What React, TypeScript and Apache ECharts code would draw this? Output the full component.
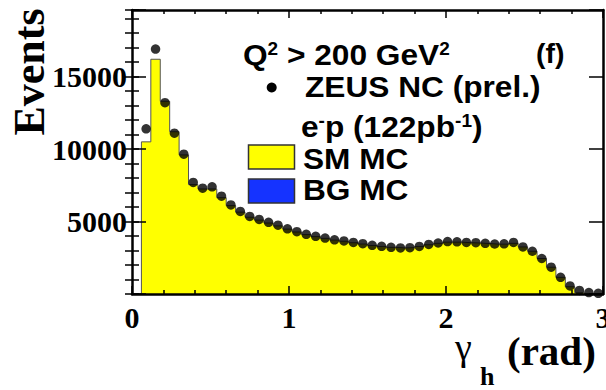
import React, { useEffect, useRef } from "react";
import * as echarts from "echarts";

// ---- data ----
const X_MIN = 0;
const X_MAX = 3;
const BIN_WIDTH = 0.06;
const Y_MAX = 19600;
const xTickLabels = [0, 1, 2, 3];
const yTickLabels = [5000, 10000, 15000];

// ZEUS NC (prel.) data, one value per bin (bin k spans [k*0.06, (k+1)*0.06])
const dataEvents: (number | null)[] = [
  null, 11400, 16900, 13200, 11100, 9650, 7700, 7300, 7400, 6750,
  6150, 5700, 5350, 5150, 4950, 4750, 4500, 4300, 4120, 3980,
  3860, 3740, 3660, 3560, 3470, 3360, 3290, 3220, 3180, 3200,
  3280, 3420, 3520, 3620, 3600, 3560, 3540, 3500, 3450, 3460,
  3560, 3250, 2950, 2450, 1850, 1150, 560, 250, 100, 50,
];

// SM MC histogram, one value per bin
const mcEvents: number[] = [
  0, 10500, 16200, 13300, 11200, 9600, 7550, 7250, 7250, 6650,
  6100, 5650, 5300, 5100, 4900, 4700, 4480, 4280, 4100, 3960,
  3840, 3720, 3640, 3540, 3450, 3350, 3280, 3220, 3180, 3200,
  3280, 3400, 3500, 3580, 3580, 3540, 3520, 3480, 3440, 3440,
  3500, 3250, 2950, 2450, 1850, 1150, 500, 80, 10, 0,
];

const SERIF = '"Liberation Serif", "Times New Roman", serif';
const SANS = '"Liberation Sans", Arial, Helvetica, sans-serif';

function frameLine() {
  return { show: true, onZero: false, lineStyle: { color: "#000", width: 2.5 } };
}
function tickStyle() {
  return { color: "#000", width: 1.5 };
}

function buildGraphics(): any[] {
  const legendRich = (fs: number) => ({
    m: { fontSize: fs, lineHeight: fs, fontWeight: "bold" as const, fontFamily: SANS, fill: "#000" },
    s: { fontSize: 18, lineHeight: 18, fontWeight: "bold" as const, fontFamily: SANS, fill: "#000", verticalAlign: "top" as const },
  });
  const legendText = (id: string, x: number, y: number, text: string, fs = 30) => ({
    id,
    type: "text" as const,
    x,
    y,
    scaleX: 1.055,
    style: { text, rich: legendRich(fs), align: "left" as const, verticalAlign: "top" as const },
    z: 100,
  });
  return [
    {
      id: "ytitle",
      type: "text",
      x: 29,
      y: 72,
      rotation: Math.PI / 2,
      style: {
        text: "Events",
        fill: "#000",
        fontFamily: SERIF,
        fontWeight: "bold",
        fontSize: 44,
        align: "center",
        verticalAlign: "middle",
      },
    },
    {
      id: "xt-gamma",
      type: "text",
      x: 455,
      y: 347,
      style: { text: "γ", fill: "#000", fontFamily: SERIF, fontSize: 38, align: "left", verticalAlign: "middle" },
    },
    {
      id: "xt-h",
      type: "text",
      x: 480,
      y: 376.5,
      style: { text: "h", fill: "#000", fontFamily: SERIF, fontWeight: "bold", fontSize: 26, align: "left", verticalAlign: "middle" },
    },
    {
      id: "xt-rad",
      type: "text",
      x: 507,
      y: 351,
      style: { text: "(rad)", fill: "#000", fontFamily: SERIF, fontWeight: "bold", fontSize: 41, align: "left", verticalAlign: "middle" },
    },
    legendText("l-q2", 243, 39.5, "{m|Q}{s|2}{m| > 200 GeV}{s|2}"),
    legendText("l-f", 536, 40, "{m|(f)}", 27),
    { id: "l-dot", type: "circle", shape: { cx: 271.7, cy: 87.5, r: 5 }, style: { fill: "#000" }, z: 100 },
    legendText("l-zeus", 305, 72, "{m|ZEUS NC (prel.)}"),
    legendText("l-lumi", 301, 112, "{m|e}{s|-}{m|p (122pb}{s|-1}{m|)}"),
    {
      id: "l-ybox",
      type: "rect",
      shape: { x: 248.5, y: 145, width: 46, height: 24 },
      style: { fill: "#ffff00", stroke: "#333", lineWidth: 1.5 },
      z: 100,
    },
    legendText("l-sm", 303, 143.5, "{m|SM MC}"),
    {
      id: "l-bbox",
      type: "rect",
      shape: { x: 248.5, y: 179, width: 46, height: 24 },
      style: { fill: "#1533ff", stroke: "#333", lineWidth: 1.5 },
      z: 100,
    },
    legendText("l-bg", 303, 175, "{m|BG MC}"),
  ];
}

function buildOption(): echarts.EChartsOption {
  const histLine: [number, number][] = [];
  mcEvents.forEach((v, i) => {
    const lo = X_MIN + i * BIN_WIDTH;
    histLine.push([lo, v], [lo + BIN_WIDTH, v]);
  });
  const points: [number, number][] = [];
  dataEvents.forEach((v, i) => {
    if (v != null) points.push([X_MIN + (i + 0.5) * BIN_WIDTH, v]);
  });

  const xAxisCommon = (position: "bottom" | "top", withLabels: boolean) => ({
    type: "value" as const,
    position,
    min: X_MIN,
    max: X_MAX,
    interval: 1,
    axisLine: frameLine(),
    axisTick: { show: true, inside: true, length: 8, lineStyle: tickStyle() },
    minorTick: { show: true, splitNumber: 5, length: 4, lineStyle: tickStyle() },
    splitLine: { show: false },
    z: 10,
    axisLabel: withLabels
      ? {
          show: true,
          margin: 8,
          color: "#000",
          fontFamily: SERIF,
          fontWeight: "bold" as const,
          fontSize: 30,
          formatter: (v: number) => (xTickLabels.includes(v) ? String(v) : ""),
        }
      : { show: false },
  });

  const yAxisMajor = (position: "left" | "right", withLabels: boolean) => ({
    type: "value" as const,
    position,
    min: 0,
    max: Y_MAX,
    interval: 5000,
    axisLine: frameLine(),
    axisTick: { show: true, inside: true, length: 14, lineStyle: tickStyle() },
    splitLine: { show: false },
    z: 10,
    axisLabel: withLabels
      ? {
          show: true,
          margin: 5,
          color: "#000",
          fontFamily: SERIF,
          fontWeight: "bold" as const,
          fontSize: 30,
          formatter: (v: number) => (yTickLabels.includes(v) ? String(v) : ""),
        }
      : { show: false },
  });

  const yAxisMinor = (position: "left" | "right") => ({
    type: "value" as const,
    position,
    min: 0,
    max: Y_MAX,
    interval: 1000,
    axisLine: { show: false },
    axisTick: { show: true, inside: true, length: 7, lineStyle: tickStyle() },
    splitLine: { show: false },
    z: 10,
    axisLabel: { show: false },
  });

  return {
    animation: false,
    backgroundColor: "#fff",
    grid: {
      left: 132,
      right: 3,
      top: 10,
      bottom: 96,
      containLabel: false,
      outerBoundsMode: "none",
    } as any,
    xAxis: [xAxisCommon("bottom", true), xAxisCommon("top", false)],
    yAxis: [yAxisMajor("left", true), yAxisMinor("left"), yAxisMajor("right", false), yAxisMinor("right")],
    series: [
      {
        name: "SM MC",
        type: "line",
        xAxisIndex: 0,
        yAxisIndex: 0,
        data: histLine,
        showSymbol: false,
        symbol: "none",
        lineStyle: { color: "#555", width: 1 },
        areaStyle: { color: "#ffff00", opacity: 1 },
        z: 2,
        silent: true,
      },
      {
        name: "ZEUS NC (prel.)",
        type: "scatter",
        xAxisIndex: 0,
        yAxisIndex: 0,
        data: points,
        symbol: "circle",
        symbolSize: 9.5,
        itemStyle: { color: "#000" },
        z: 5,
        silent: true,
      },
    ],
    graphic: buildGraphics(),
  } as echarts.EChartsOption;
}

export default function App() {
  const ref = useRef<HTMLDivElement>(null);
  useEffect(() => {
    document.body.style.margin = "0";
    if (!ref.current) return;
    const chart = echarts.init(ref.current, undefined, { renderer: "svg" });
    chart.setOption(buildOption());
    return () => chart.dispose();
  }, []);
  return (
    <div
      ref={ref}
      style={{ position: "absolute", left: 0, top: 0, width: 606, height: 390, background: "#fff" }}
    />
  );
}
